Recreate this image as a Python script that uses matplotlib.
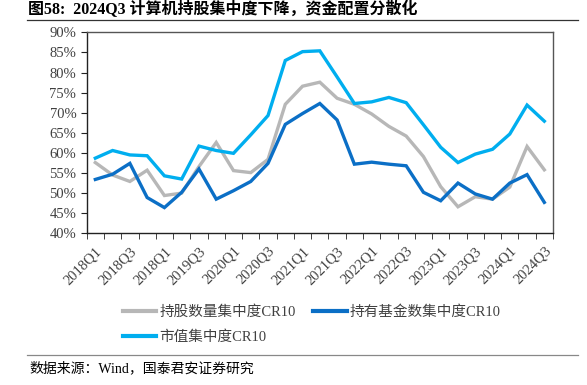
import matplotlib
matplotlib.use("Agg")
import matplotlib.pyplot as plt
from matplotlib.lines import Line2D
from matplotlib.ticker import FixedLocator, PercentFormatter

# quarters 2018Q1 .. 2024Q3
quarters = [f"{y}Q{q}" for y in range(2018, 2025) for q in range(1, 5)][:27]
tick_labels = ["2018Q1", "2018Q3", "2018Q1", "2019Q3", "2020Q1", "2020Q3", "2021Q1",
               "2021Q3", "2022Q1", "2022Q3", "2023Q1", "2023Q3", "2024Q1", "2024Q3"]

cr10_shares = [57.6, 54.5, 52.9, 55.7, 49.4, 50.0, 56.6, 62.6, 55.6, 55.1, 58.4, 72.1, 76.6,
               77.6, 73.6, 72.1, 69.7, 66.6, 64.2, 59.1, 51.6, 46.6, 49.1, 48.5, 51.5, 61.6, 55.8]
cr10_funds = [53.4, 54.7, 57.4, 48.9, 46.4, 50.2, 56.0, 48.5, 50.6, 52.9, 57.4, 67.1, 69.8,
              72.3, 68.2, 57.2, 57.7, 57.2, 56.8, 50.2, 48.1, 52.5, 49.8, 48.5, 52.5, 54.6, 47.7]
cr10_mktcap = [58.7, 60.6, 59.5, 59.3, 54.3, 53.5, 61.7, 60.6, 59.9, 64.5, 69.3, 83.0, 85.2,
               85.4, 78.9, 72.3, 72.7, 73.8, 72.5, 67.0, 61.4, 57.6, 59.7, 60.9, 64.7, 71.9, 67.9]

FONT = ["Liberation Serif", "Noto Sans CJK SC"]
plt.rcParams["font.family"] = FONT

GRAY = "#B7B7B7"
DARK = "#0B6FC6"
LIGHT = "#00AEEF"

fig = plt.figure(figsize=(5.87, 3.85), dpi=100)
ax = fig.add_axes([0.1477, 0.394, 0.7943, 0.522])

x = list(range(len(quarters)))
lw = 2.4
ax.plot(x, cr10_shares, color=GRAY, lw=lw, solid_joinstyle="miter")
ax.plot(x, cr10_funds, color=DARK, lw=lw, solid_joinstyle="miter")
ax.plot(x, cr10_mktcap, color=LIGHT, lw=lw, solid_joinstyle="miter")

ax.set_xlim(-0.5, len(quarters) - 0.5)
ax.set_ylim(40, 90)
ax.set_yticks(range(40, 91, 5))
ax.yaxis.set_major_formatter(PercentFormatter(decimals=0))

ax.set_xticks(x[::2])
ax.set_xticklabels(tick_labels, rotation=45, ha="right", rotation_mode="anchor")
ax.xaxis.set_minor_locator(FixedLocator([i - 0.5 for i in range(len(quarters) + 1)]))
ax.tick_params(axis="x", which="major", length=0, pad=8, labelsize=10.5, colors="#404040")
ax.tick_params(axis="x", which="minor", length=4, direction="out", color="#222222")
ax.tick_params(axis="y", length=4, direction="out", labelsize=10.5, colors="#404040",
               color="#222222")
for name, sp in ax.spines.items():
    sp.set_color("#222222" if name in ("left", "bottom") else "#555555")
    sp.set_linewidth(1.0)

handles = [
    Line2D([], [], color=GRAY, lw=3),
    Line2D([], [], color=LIGHT, lw=3),
    Line2D([], [], color=DARK, lw=3),
]
labels = ["持股数量集中度CR10", "市值集中度CR10", "持有基金数集中度CR10"]
fig.legend(handles, labels, ncol=2, loc="center left", bbox_to_anchor=(0.187, 0.156),
           frameon=False, handlelength=2.3, handletextpad=0.2, columnspacing=1.2,
           labelspacing=0.78, prop={"family": FONT, "size": 10.5}, labelcolor="#404040")

fig.text(0.047, 0.975, "图58:  2024Q3 计算机持股集中度下降，资金配置分散化",
         fontsize=11.5, fontweight="bold", va="center", ha="left")
fig.add_artist(Line2D([0.046, 0.985], [0.948, 0.948], color="#333333", lw=0.9))
fig.add_artist(Line2D([0.046, 0.985], [0.078, 0.078], color="#888888", lw=0.9))
fig.text(0.05, 0.043, "数据来源：Wind，国泰君安证券研究", fontsize=10, va="center", ha="left")

fig.savefig("out.png", dpi=100)
